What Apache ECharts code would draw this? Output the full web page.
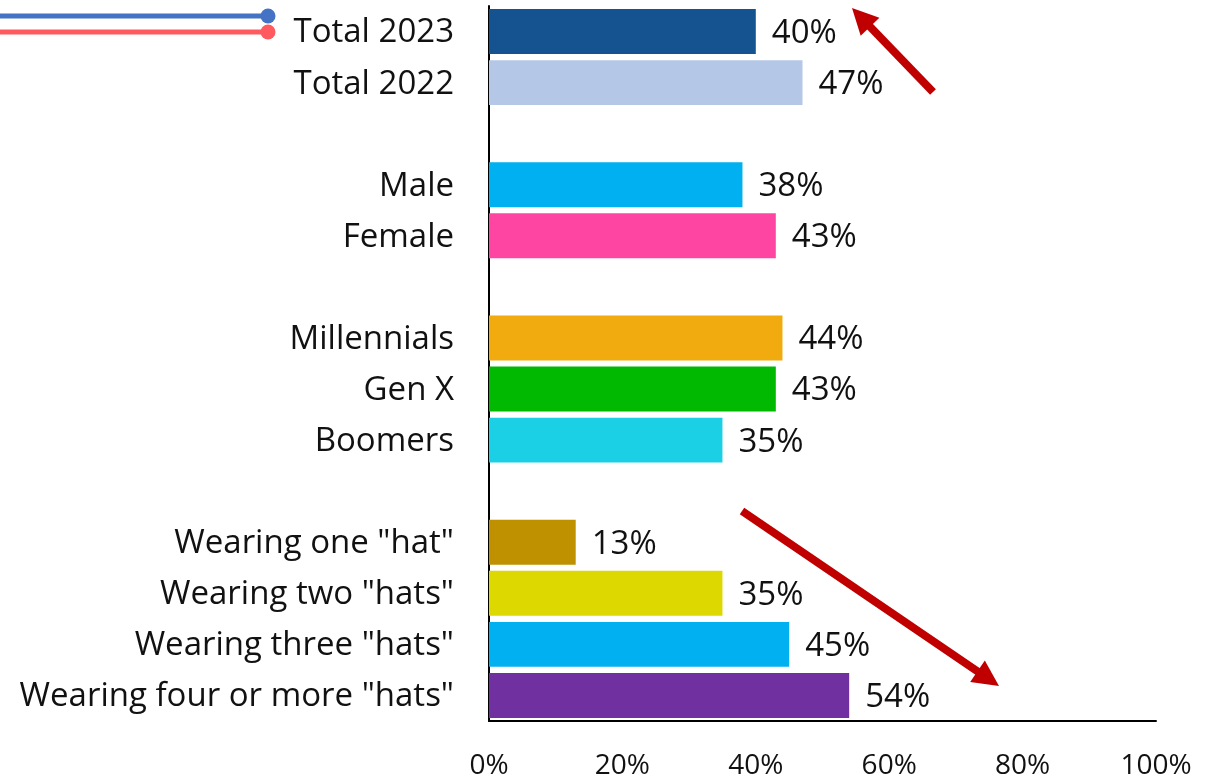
<!DOCTYPE html>
<html>
<head>
<meta charset="utf-8">
<script src="https://cdn.jsdelivr.net/npm/echarts@6/dist/echarts.min.js"></script>
<style>
  html, body { margin: 0; padding: 0; background: #fff; }
  #chart { width: 1221px; height: 779px; }
</style>
</head>
<body>
<div id="chart"></div>
<script>
// Row labels (blank rows separate the groups)
const categories = [
  'Total 2023', 'Total 2022', ' ',
  'Male', 'Female', '  ',
  'Millennials', 'Gen X', 'Boomers', '   ',
  'Wearing one "hat"', 'Wearing two "hats"', 'Wearing three "hats"', 'Wearing four or more "hats"'
];
// Share in percent for each row
const values = [40, 47, null, 38, 43, null, 44, 43, 35, null, 13, 35, 45, 54];
// Bar colour for each row
const barColors = [
  '#145290', '#b4c7e7', null,
  '#00b0f0', '#ff45a2', null,
  '#f2ab0e', '#00b900', '#1bcfe4', null,
  '#bf9000', '#dcd800', '#00b0f0', '#7030a0'
];
const xTicks = { min: 0, max: 100, interval: 20 };

const FONT = 'Open Sans';
const chart = echarts.init(document.getElementById('chart'), null, { renderer: 'canvas' });

const seriesData = values.map((v, i) => v == null ? null : {
  value: v,
  itemStyle: { color: barColors[i] }
});

const ARROW = '#c00000';
function arrow(x1, y1, x2, y2) {
  const ang = Math.atan2(y2 - y1, x2 - x1);
  const headLen = 26, headHalf = 13;
  const bx = x2 - headLen * Math.cos(ang), by = y2 - headLen * Math.sin(ang);
  const px = -Math.sin(ang), py = Math.cos(ang);
  return [
    { type: 'line', shape: { x1: x1, y1: y1, x2: bx + 2 * Math.cos(ang), y2: by + 2 * Math.sin(ang) },
      style: { stroke: ARROW, lineWidth: 8 }, z: 10 },
    { type: 'polygon', shape: { points: [[x2, y2], [bx + px * headHalf, by + py * headHalf], [bx - px * headHalf, by - py * headHalf]] },
      style: { fill: ARROW }, z: 10 }
  ];
}

chart.setOption({
  animation: false,
  backgroundColor: '#ffffff',
  grid: {
    left: 489, top: 6, width: 667, height: 715,
    containLabel: false, outerBoundsMode: 'none'
  },
  xAxis: {
    type: 'value',
    min: xTicks.min, max: xTicks.max, interval: xTicks.interval,
    axisLine: { show: true, lineStyle: { color: '#000', width: 2 } },
    axisTick: { show: false },
    splitLine: { show: false },
    axisLabel: {
      formatter: '{value}%', color: '#111', fontFamily: FONT, fontSize: 28, margin: 31
    }
  },
  yAxis: {
    type: 'category',
    inverse: true,
    data: categories,
    axisLine: { show: true, lineStyle: { color: '#000', width: 2 } },
    axisTick: { show: false },
    axisLabel: {
      formatter: '{a|{value}}',
      margin: 35,
      rich: { a: { color: '#111', fontFamily: FONT, fontSize: 33, padding: [3, 0, 0, 0] } }
    }
  },
  series: [{
    type: 'bar',
    data: seriesData,
    barCategoryGap: '12%',
    label: {
      show: true, position: 'right', distance: 16, offset: [0, 2],
      formatter: p => p.value + '%',
      color: '#111', fontFamily: FONT, fontSize: 33
    }
  }],
  graphic: [
    { type: 'line', shape: { x1: 0, y1: 16, x2: 268, y2: 16 }, style: { stroke: '#4472c4', lineWidth: 5 } },
    { type: 'circle', shape: { cx: 268, cy: 16, r: 7.5 }, style: { fill: '#4472c4' } },
    { type: 'line', shape: { x1: 0, y1: 32, x2: 268, y2: 32 }, style: { stroke: '#ff5a5f', lineWidth: 5 } },
    { type: 'circle', shape: { cx: 268, cy: 32, r: 7.5 }, style: { fill: '#ff5a5f' } },
    ...arrow(933, 92, 852, 8),
    ...arrow(742, 511, 999, 686)
  ]
});
</script>
</body>
</html>
